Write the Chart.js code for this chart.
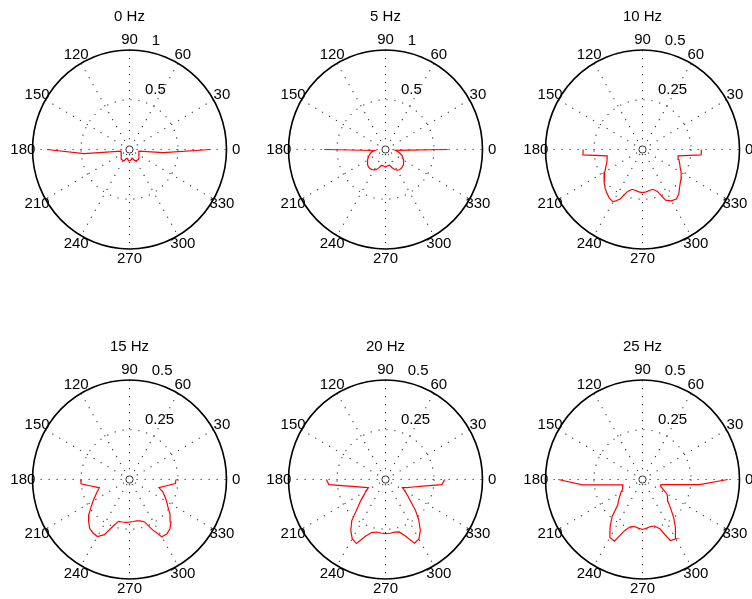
<!DOCTYPE html>
<html>
<head>
<meta charset="utf-8">
<script src="https://cdn.jsdelivr.net/npm/chart.js@4.4.1/dist/chart.umd.min.js"></script>
<style>
  html, body { margin: 0; padding: 0; background: #fff; width: 752px; height: 599px; overflow: hidden; }
  canvas.panel { position: absolute; }
</style>
</head>
<body>
<script>
// Direction of each sample, degrees
const angles = [180, 185, 190, 195, 200, 205, 210, 215, 220, 225, 230, 235, 240, 245,
                250, 255, 260, 265, 270, 275, 280, 285, 290, 295, 300, 305, 310, 315,
                320, 325, 330, 335, 340, 345, 350, 355, 360];

// Magnitude per direction, one array per frequency
const r0Hz  = [0.85, 0.47, 0.089, 0.09, 0.092, 0.096, 0.10, 0.106, 0.112, 0.12, 0.126, 0.129, 0.128, 0.122,
               0.097, 0.092, 0.102, 0.112, 0.115, 0.112, 0.102, 0.092, 0.097, 0.122, 0.129, 0.133, 0.136, 0.135,
               0.128, 0.119, 0.112, 0.107, 0.103, 0.10, 0.098, 0.35, 0.837];
const r5Hz  = [0.63, 0.112, 0.146, 0.163, 0.182, 0.198, 0.214, 0.227, 0.239, 0.248, 0.25, 0.246, 0.237, 0.224,
               0.194, 0.166, 0.165, 0.169, 0.177, 0.168, 0.163, 0.163, 0.192, 0.222, 0.24, 0.248, 0.249, 0.245,
               0.24, 0.228, 0.214, 0.198, 0.184, 0.157, 0.131, 0.102, 0.64];
const r10Hz = [0.306, 0.308, 0.185, 0.189, 0.196, 0.209, 0.224, 0.242, 0.258, 0.273, 0.286, 0.298, 0.304, 0.276,
               0.224, 0.207, 0.209, 0.214, 0.217, 0.214, 0.209, 0.207, 0.224, 0.281, 0.298, 0.304, 0.291, 0.27,
               0.255, 0.245, 0.23, 0.214, 0.204, 0.194, 0.186, 0.305, 0.303];
const r15Hz = [0.25, 0.251, 0.196, 0.161, 0.177, 0.194, 0.217, 0.242, 0.273, 0.298, 0.32, 0.328, 0.331, 0.306,
               0.25, 0.218, 0.217, 0.216, 0.214, 0.212, 0.211, 0.215, 0.227, 0.278, 0.332, 0.335, 0.324, 0.302,
               0.273, 0.242, 0.221, 0.201, 0.183, 0.157, 0.189, 0.237, 0.24];
const r20Hz = [0.305, 0.293, 0.192, 0.143, 0.115, 0.097, 0.116, 0.135, 0.167, 0.205, 0.271, 0.312, 0.343, 0.355,
               0.303, 0.276, 0.268, 0.27, 0.272, 0.271, 0.269, 0.273, 0.304, 0.353, 0.345, 0.313, 0.267, 0.218,
               0.168, 0.138, 0.115, 0.096, 0.118, 0.146, 0.194, 0.292, 0.305];
const r25Hz = [0.434, 0.311, 0.156, 0.105, 0.107, 0.115, 0.128, 0.142, 0.161, 0.18, 0.244, 0.291, 0.337, 0.342,
               0.275, 0.246, 0.24, 0.245, 0.251, 0.245, 0.24, 0.242, 0.265, 0.338, 0.344, 0.296, 0.25, 0.205,
               0.171, 0.158, 0.145, 0.117, 0.099, 0.098, 0.147, 0.295, 0.439];

const titles = ['0 Hz', '5 Hz', '10 Hz', '15 Hz', '20 Hz', '25 Hz'];
const series = [r0Hz, r5Hz, r10Hz, r15Hz, r20Hz, r25Hz];
const rMax = [1, 1, 0.5, 0.5, 0.5, 0.5];
const radialTicks = [[0.5, 1], [0.5, 1], [0.25, 0.5], [0.25, 0.5], [0.25, 0.5], [0.25, 0.5]];
const angleTicks = [0, 30, 60, 90, 120, 150, 180, 210, 240, 270, 300, 330];

// Page layout of the 2 x 3 grid
const colCenters = [129.5, 385.5, 642.5];
const rowCenters = [149.5, 479.5];
const RX = 97, RY = 99.5;           // plot radius in px (horizontal / vertical)
const CW = 260, CH = 290;           // canvas size per panel
const LX = 129.5, LY = 154.5;       // pole position inside the canvas

const FONT = '15px "Liberation Sans", Arial, Helvetica, sans-serif';
const rad = d => d * Math.PI / 180;

// Polar frame: spokes, rings, outer rim, pole marker and all labels
const polarFrame = {
  id: 'polarFrame',
  beforeDatasetsDraw(chart, args, opts) {
    const { ctx, scales: { x, y } } = chart;
    const R = opts.rmax;
    const X = (r, d) => x.getPixelForValue(r * Math.cos(rad(d)));
    const Y = (r, d) => y.getPixelForValue(r * Math.sin(rad(d)));
    const cx = x.getPixelForValue(0), cy = y.getPixelForValue(0);
    const rx = x.getPixelForValue(R) - cx, ry = cy - y.getPixelForValue(R);
    ctx.save();

    // dotted spokes every 30 degrees
    ctx.strokeStyle = 'rgba(0,0,0,0.8)';
    ctx.lineWidth = 1.1;
    ctx.setLineDash([1.2, 6.8]);
    for (let a = 30; a <= 180; a += 30) {
      ctx.beginPath();
      ctx.moveTo(X(R, a), Y(R, a));
      ctx.lineTo(X(R, a + 180), Y(R, a + 180));
      ctx.stroke();
    }
    // dotted inner rings
    opts.ticks.filter(v => v < R).forEach(v => {
      ctx.beginPath();
      ctx.ellipse(cx, cy, rx * v / R, ry * v / R, 0, 0, 2 * Math.PI);
      ctx.stroke();
    });
    ctx.setLineDash([]);

    // solid rim
    ctx.strokeStyle = '#000';
    ctx.lineWidth = 1.6;
    ctx.beginPath();
    ctx.ellipse(cx, cy, rx, ry, 0, 0, 2 * Math.PI);
    ctx.stroke();

    // pole marker
    ctx.fillStyle = '#fff';
    ctx.strokeStyle = '#333';
    ctx.lineWidth = 1;
    ctx.beginPath();
    ctx.arc(cx, cy, 3.6, 0, 2 * Math.PI);
    ctx.fill();
    ctx.stroke();

    // angle labels
    ctx.fillStyle = '#000';
    ctx.font = FONT;
    ctx.textAlign = 'center';
    ctx.textBaseline = 'middle';
    angleTicks.forEach(a => ctx.fillText(String(a), X(1.1 * R, a), Y(1.1 * R, a)));

    // radial labels along the 82 degree direction
    const step = opts.ticks[1] - opts.ticks[0];
    ctx.textAlign = 'left';
    ctx.textBaseline = 'bottom';
    opts.ticks.forEach(v => {
      const rr = v + step / 20;
      ctx.fillText('  ' + v, X(rr, 82), Y(rr, 82));
    });

    // title
    ctx.textAlign = 'center';
    ctx.textBaseline = 'middle';
    ctx.fillText(opts.title, cx, cy - 133);
    ctx.restore();
  }
};

series.forEach((vals, i) => {
  const col = i % 3, row = Math.floor(i / 3);
  const canvas = document.createElement('canvas');
  canvas.className = 'panel';
  canvas.width = CW; canvas.height = CH;
  canvas.style.width = CW + 'px'; canvas.style.height = CH + 'px';
  canvas.style.left = (colCenters[col] - LX) + 'px';
  canvas.style.top = (rowCenters[row] - LY) + 'px';
  document.body.appendChild(canvas);

  const R = rMax[i];
  const points = angles.map((a, k) => ({
    x: vals[k] * Math.cos(rad(a)),
    y: vals[k] * Math.sin(rad(a))
  }));

  new Chart(canvas, {
    type: 'scatter',
    data: {
      datasets: [{
        data: points,
        showLine: true,
        borderColor: '#ff0000',
        borderWidth: 1.2,
        pointRadius: 0,
        tension: 0,
        fill: false
      }]
    },
    options: {
      responsive: false,
      animation: false,
      events: [],
      layout: { padding: { left: LX - RX, right: CW - LX - RX, top: LY - RY, bottom: CH - LY - RY } },
      scales: {
        x: { type: 'linear', min: -R, max: R, display: false },
        y: { type: 'linear', min: -R, max: R, display: false }
      },
      plugins: {
        legend: { display: false },
        tooltip: { enabled: false },
        polarFrame: { rmax: R, ticks: radialTicks[i], title: titles[i] }
      }
    },
    plugins: [polarFrame]
  });
});
</script>
</body>
</html>
